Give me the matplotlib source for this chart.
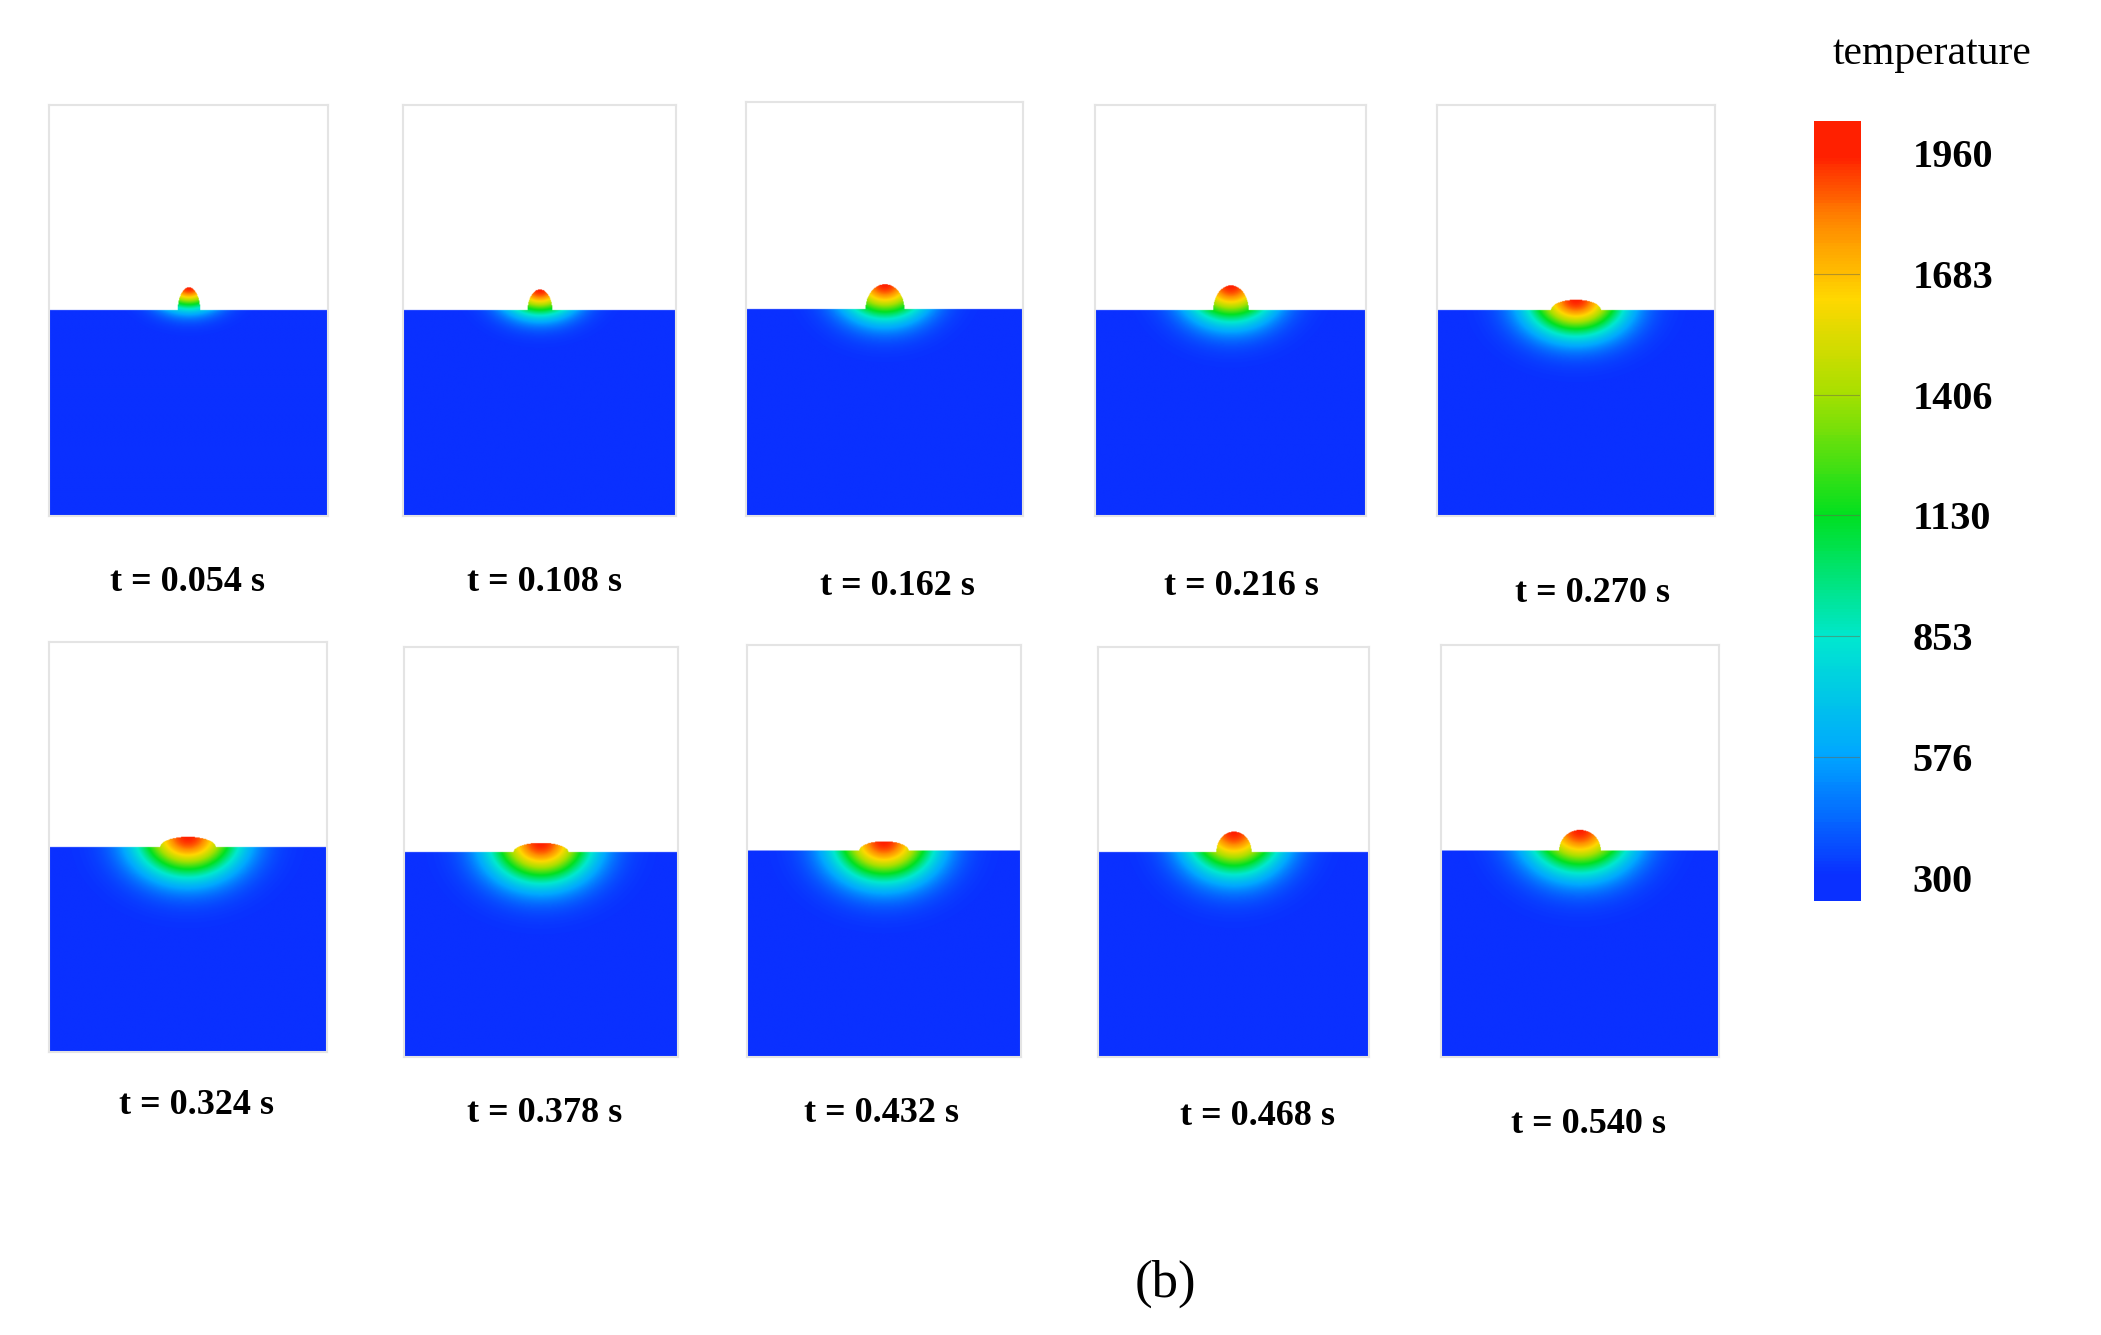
import numpy as np
import matplotlib.pyplot as plt
from matplotlib.colors import Normalize, LinearSegmentedColormap

times = ['0.054', '0.108', '0.162', '0.216', '0.270',
         '0.324', '0.378', '0.432', '0.468', '0.540']
# molten bump height / half width, heat spread (x, y) in panel units
bump_h = [0.11, 0.10, 0.12, 0.12, 0.05, 0.05, 0.045, 0.045, 0.10, 0.10]
bump_w = [0.08, 0.09, 0.14, 0.13, 0.18, 0.20, 0.20, 0.18, 0.13, 0.15]
heat_x = [0.22, 0.26, 0.30, 0.32, 0.34, 0.36, 0.36, 0.36, 0.34, 0.36]
heat_y = [0.10, 0.12, 0.16, 0.17, 0.17, 0.19, 0.19, 0.19, 0.20, 0.20]
cb_ticks = [300, 576, 853, 1130, 1406, 1683, 1960]
t_min, t_max = 300, 1960

boxes = [(36, 78, 242, 383), (297, 78, 499, 383), (550, 76, 755, 383),
         (808, 78, 1008, 383), (1060, 78, 1265, 383),
         (36, 476, 241, 780), (298, 480, 500, 784), (551, 478, 753, 784),
         (810, 480, 1010, 784), (1063, 478, 1268, 784)]
label_pos = [(138, 432), (402, 432), (662, 435), (916, 435), (1175, 440),
             (145, 820), (402, 826), (650, 826), (928, 828), (1172, 834)]

W, H = 1550, 990
fig = plt.figure(figsize=(21.01, 13.35), dpi=100)
serif = 'Liberation Serif'
cmap = LinearSegmentedColormap.from_list('fluent', [
    (0.0, '#0a30ff'), (0.17, '#00a8ff'), (0.33, '#00e8d0'),
    (0.5, '#00e020'), (0.67, '#a8e000'), (0.8, '#ffd800'),
    (0.9, '#ff9000'), (1.0, '#ff2000')])
cmap.set_bad('white')
norm = Normalize(t_min, t_max)

x = np.linspace(-1, 1, 400)
y = np.linspace(-1, 1, 600)
X, Y = np.meshgrid(x, y)

for i, (l, t, r, b) in enumerate(boxes):
    ax = fig.add_axes([l / W, 1 - b / H, (r - l) / W, (b - t) / H])
    h, w = bump_h[i], bump_w[i]
    top = np.where(np.abs(X) < w, h * np.sqrt(np.clip(1 - (X / w) ** 2, 0, 1)), 0)
    T = t_min + (t_max - t_min) * np.exp(-(X / heat_x[i]) ** 2 - ((Y - h) / heat_y[i]) ** 2)
    T = np.ma.masked_where(Y > top, T)
    ax.imshow(T, extent=(-1, 1, -1, 1), origin='lower', cmap=cmap, norm=norm,
              aspect='auto', interpolation='bilinear')
    ax.set_xticks([])
    ax.set_yticks([])
    for s in ax.spines.values():
        s.set_color('#e4e4e4')
        s.set_linewidth(1.5)
    lx, ly = label_pos[i]
    fig.text(lx / W, 1 - ly / H, f't = {times[i]} s', ha='center', va='center',
             fontsize=26, family=serif, fontweight='bold')

# colour bar: labels sit inside the bar ends
cb_lo, cb_hi = 248, 2032
cax = fig.add_axes([1338 / W, 1 - 668 / H, 34 / W, 578 / H])
grad = np.linspace(cb_lo, cb_hi, 256).reshape(-1, 1)
cax.imshow(grad, extent=(0, 1, cb_lo, cb_hi), origin='lower', cmap=cmap,
           norm=norm, aspect='auto')
cax.set_ylim(cb_lo, cb_hi)
cax.set_xlim(0, 1)
for v in cb_ticks[1:-1]:
    cax.axhline(v, color='#6a6a4a', lw=0.8, alpha=0.5)
cax.set_xticks([])
cax.set_yticks(cb_ticks)
cax.yaxis.tick_right()
cax.tick_params(length=0, pad=38)
for lab in cax.get_yticklabels():
    lab.set_fontsize(29)
    lab.set_family(serif)
    lab.set_fontweight('bold')
for s in cax.spines.values():
    s.set_visible(False)
fig.text(1425 / W, 1 - 40 / H, 'temperature', ha='center', va='center',
         fontsize=30, family=serif)
fig.text(860 / W, 1 - 952 / H, '(b)', ha='center', va='center',
         fontsize=38, family=serif)

fig.savefig('out.png', dpi=100)
